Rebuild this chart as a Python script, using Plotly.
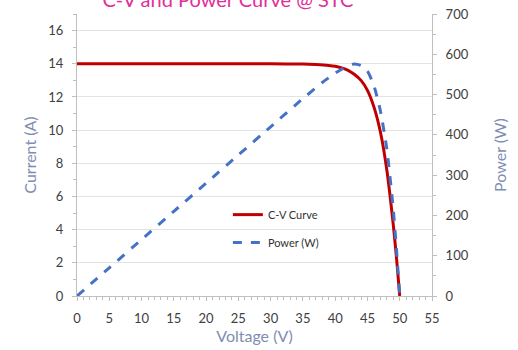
import plotly.graph_objects as go

voltage = [0, 5, 10, 15, 20, 25, 30, 35, 37, 39, 40, 41, 42, 43, 44, 45, 46, 47, 48, 49, 49.5, 50]
current = [14.0, 14.0, 14.0, 14.0, 14.0, 14.0, 14.0, 13.98, 13.95, 13.9, 13.85, 13.75, 13.6, 13.35, 13.0, 12.4, 11.4, 9.9, 7.6, 4.3, 2.3, 0]
power_v = [0, 5, 10, 15, 20, 25, 30, 35, 38, 40, 41, 42, 43, 44, 45, 46, 47, 48, 49, 49.5, 50]
power = [0, 70, 140, 210, 280, 350, 420, 490, 530, 553, 563, 572, 576, 572, 558, 522, 460, 365, 215, 115, 0]

tick_font = dict(family='Lato', size=13, color='#404040')
title_color = '#7f8db3'

fig = go.Figure()
fig.add_trace(go.Scatter(
                x=voltage,
                y=current,
                name='C-V Curve',
                legendgroup='cv',
                mode='lines',
                line=dict(color='#c00000', width=3, shape='spline', smoothing=0.6)))
fig.add_trace(go.Scatter(
                x=power_v,
                y=power,
                name='Power (W)',
                legendgroup='pw',
                yaxis='y2',
                mode='lines',
                line=dict(color='#4472c4', width=3, dash='dash', shape='spline', smoothing=0.6)))

fig.update_layout(
    width=518, height=350,
    margin=dict(l=77, r=86, t=14, b=54, autoexpand=False),
    paper_bgcolor='white',
    plot_bgcolor='white',
    showlegend=True,
    title=dict(text='C-V and Power Curve @ STC', x=0.44, xanchor='center',
               y=1.0, yref='container', yanchor='middle', automargin=False,
               font=dict(family='Lato', size=20, color='#e0309a')),
    legend=dict(x=0.425, y=0.34, xanchor='left', yanchor='top',
                bgcolor='rgba(0,0,0,0)',
                font=dict(family='Lato', size=11, color='#333333'),
                tracegroupgap=9),
    xaxis=dict(range=[0, 55], dtick=5, tick0=0, automargin=False,
               showline=True, linecolor='#bfbfbf', linewidth=1,
               showgrid=False, zeroline=False,
               ticks='outside', ticklen=4, tickcolor='#bfbfbf',
               minor=dict(dtick=1, ticks='outside', ticklen=3, tickcolor='#bfbfbf'),
               tickfont=tick_font, ticklabelstandoff=6,
               title=dict(text='Voltage (V)', standoff=6,
                          font=dict(family='Lato', size=16, color=title_color))),
    yaxis=dict(range=[0, 17], dtick=2, tick0=0, automargin=False,
               showline=True, linecolor='#bfbfbf', linewidth=1,
               showgrid=True, gridcolor='#e3e3e3', zeroline=False,
               ticks='outside', ticklen=4, tickcolor='#bfbfbf',
               minor=dict(dtick=1, ticks='outside', ticklen=3, tickcolor='#bfbfbf'),
               tickfont=tick_font, ticklabelstandoff=6,
               title=dict(text='Current (A)', standoff=7,
                          font=dict(family='Lato', size=16, color=title_color))),
    yaxis2=dict(range=[0, 700], dtick=100, tick0=0, overlaying='y', side='right',
                automargin=False,
                showline=True, linecolor='#bfbfbf', linewidth=1,
                showgrid=False, zeroline=False,
                ticks='outside', ticklen=4, tickcolor='#bfbfbf',
                minor=dict(dtick=50, ticks='outside', ticklen=3, tickcolor='#bfbfbf'),
                tickfont=tick_font, ticklabelstandoff=6,
                title=dict(text='Power (W)', standoff=27,
                           font=dict(family='Lato', size=16, color=title_color))),
)

# drop the page's default body margin so the chart sits at the top-left corner
fig.write_html("out.html", config={'displayModeBar': False},
               post_script="document.body.style.margin='0';")
